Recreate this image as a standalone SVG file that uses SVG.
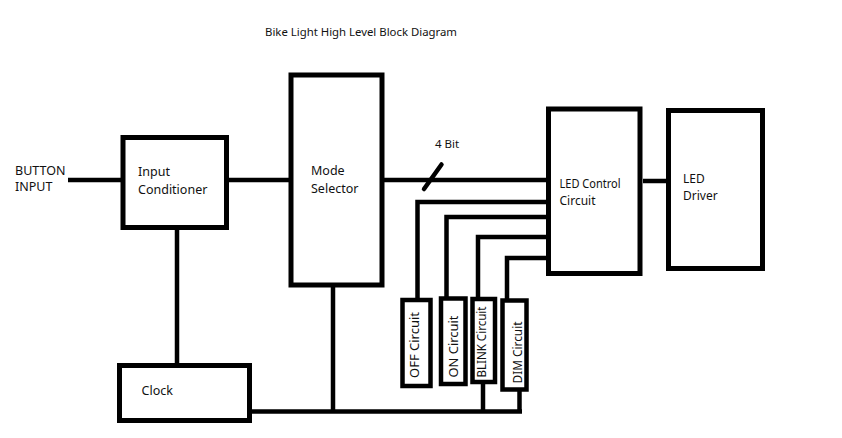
<svg xmlns="http://www.w3.org/2000/svg" width="842" height="438" viewBox="0 0 842 438">
<style>
.box{fill:#fff;stroke:#000;stroke-width:5}
.sbox{fill:#fff;stroke:#000;stroke-width:4.5}
.w{fill:none;stroke:#000;stroke-width:4.5;stroke-linecap:butt;stroke-linejoin:miter}
.t{font-family:"Noto Sans","Open Sans",sans-serif;font-size:12.5px;fill:#111}
.s{font-size:11.5px}
.m{font-size:12px}
</style>
<rect width="842" height="438" fill="#fff"/>
<text class="t s" x="265" y="35.5" textLength="192" lengthAdjust="spacingAndGlyphs">Bike Light High Level Block Diagram</text>
<g id="connectors">
<path class="w" d="M68 180H122"/>
<path class="w" d="M228 180H291"/>
<path class="w" d="M177 229V363"/>
<path class="w" d="M251 411.5H522"/>
<path class="w" d="M333 286V411.5"/>
<path class="w" d="M483 384V411.5"/>
<path class="w" d="M519.5 391V411.5"/>
<path class="w" d="M384 180H547"/>
<path class="w" d="M424 189L441.5 164.5" style="stroke-linecap:round"/>
<path class="w" d="M417.5 299V202H548" style="stroke-linecap:round"/>
<path class="w" d="M446.5 298V217H548" style="stroke-linecap:round"/>
<path class="w" d="M478 298V237H548" style="stroke-linecap:round"/>
<path class="w" d="M507 300V258H548" style="stroke-linecap:round"/>
<path class="w" d="M643 181H667"/>
<text class="t s" x="435" y="148">4 Bit</text>
</g>
<g id="button-input">
<text class="t" x="15" y="174.5">BUTTON</text>
<text class="t" x="15" y="191">INPUT</text>
</g>
<g id="input-conditioner">
<rect class="box" x="123" y="137.5" width="103.5" height="90"/>
<text class="t" x="138" y="176">Input</text>
<text class="t" x="138" y="194">Conditioner</text>
</g>
<g id="mode-selector">
<rect class="box" x="291" y="75" width="91" height="210"/>
<text class="t" x="311" y="175">Mode</text>
<text class="t" x="311" y="193">Selector</text>
</g>
<g id="clock">
<rect class="box" x="119.5" y="365.5" width="130" height="55"/>
<text class="t" x="141.5" y="395">Clock</text>
</g>
<g id="led-control">
<rect class="box" x="548.5" y="109" width="91.5" height="164.5"/>
<text class="t m" x="559.5" y="188" textLength="61" lengthAdjust="spacingAndGlyphs">LED Control</text>
<text class="t m" x="559.5" y="204.5">Circuit</text>
</g>
<g id="led-driver">
<rect class="box" x="668.5" y="110.5" width="94" height="158"/>
<text class="t m" x="683" y="183">LED</text>
<text class="t m" x="683" y="199.5">Driver</text>
</g>
<g id="off-circuit">
<rect class="sbox" x="402.5" y="300" width="28" height="86"/>
<text class="t" transform="translate(418.5 378) rotate(-90)" textLength="66" lengthAdjust="spacingAndGlyphs">OFF Circuit</text>
</g>
<g id="on-circuit">
<rect class="sbox" x="441" y="298.5" width="24.5" height="85.5"/>
<text class="t" transform="translate(457.5 377.5) rotate(-90)" textLength="62" lengthAdjust="spacingAndGlyphs">ON Circuit</text>
</g>
<g id="blink-circuit">
<rect class="sbox" x="472.5" y="299" width="22.5" height="83"/>
<text class="t" transform="translate(485.5 377.5) rotate(-90)" textLength="71" lengthAdjust="spacingAndGlyphs">BLINK Circuit</text>
</g>
<g id="dim-circuit">
<rect class="sbox" x="502.5" y="300.5" width="24" height="89"/>
<text class="t" transform="translate(522 383.5) rotate(-90)" textLength="62" lengthAdjust="spacingAndGlyphs">DIM Circuit</text>
</g>
</svg>
